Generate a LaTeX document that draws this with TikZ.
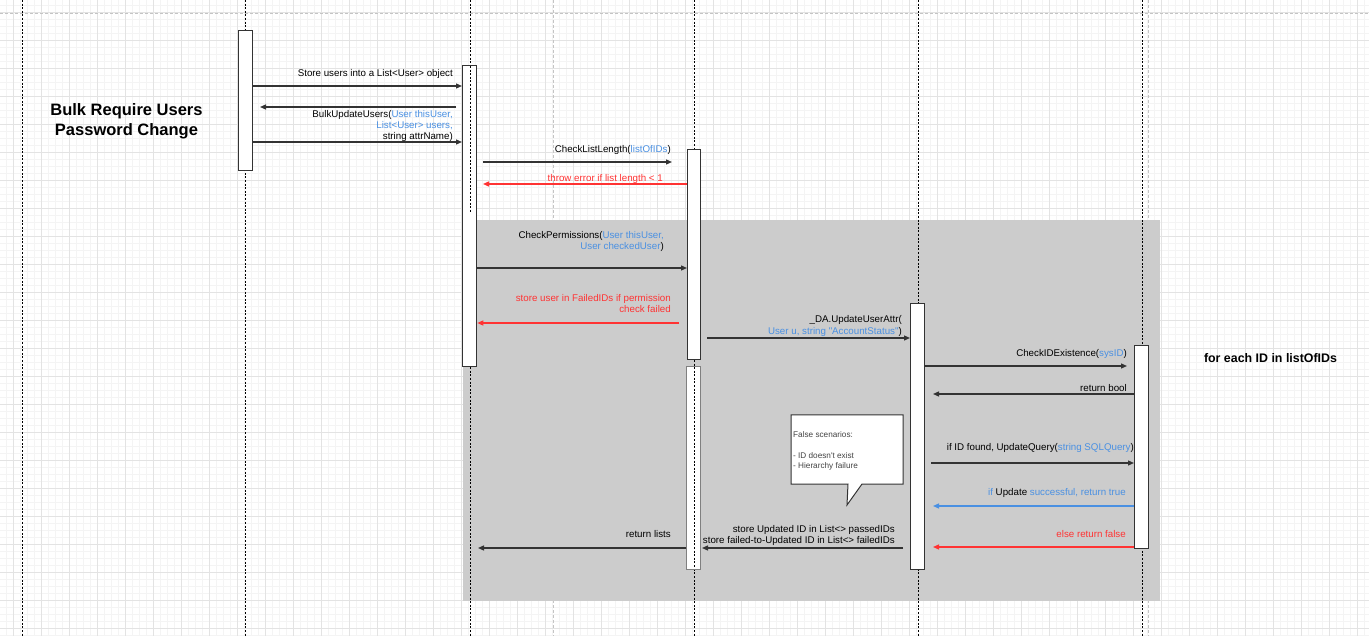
\documentclass[tikz,border=0pt]{standalone}
\usepackage{fontspec}
\setmainfont{Liberation Sans}
\font\qfa="Liberation Sans" at 9.75pt
\font\qfb="Liberation Sans" at 8.2pt
\usetikzlibrary{arrows.meta}
\definecolor{blu}{HTML}{4A90E2}
\definecolor{rd}{HTML}{FF3333}
\definecolor{ln}{HTML}{333333}
\definecolor{gridminor}{HTML}{F4F4F4}
\definecolor{gridmajor}{HTML}{E3E3E3}
\definecolor{pagebrk}{HTML}{C4C4C4}
\definecolor{framegray}{HTML}{CCCCCC}
\definecolor{notetext}{HTML}{444444}
\begin{document}
\begin{tikzpicture}[x=1pt,y=-1pt,
  actbox/.style={draw=ln, line width=1.3pt, fill=white, minimum width=14pt, inner sep=0pt, anchor=north west},
  life/.style={line width=1pt, dash pattern=on 2pt off 1.6pt, black},
  msg/.style={draw=ln, line width=1.3pt, -{Triangle[length=6pt,width=5pt]}},
  lbl/.style={font=\fontsize{9.75}{11}\selectfont, inner sep=0pt, anchor=base east},
  notelbl/.style={font=\fontsize{8.2}{10}\selectfont, inner sep=0pt, anchor=base west, text=notetext},
  pagebreak/.style={draw=pagebrk, line width=0.9pt, dash pattern=on 3pt off 2pt}
]
\useasboundingbox (0,0) rectangle (1369,636);
\fill[white] (0,0) rectangle (1369,636);
% grid
\foreach \i in {0,...,194} { \draw[gridminor, line width=0.8pt] ({6+7*\i},0) -- ++(0,636); }
\foreach \j in {0,...,90} { \draw[gridminor, line width=0.8pt] (0,{5+7*\j}) -- ++(1369,0); }
\foreach \i in {0,...,48} { \draw[gridmajor, line width=0.9pt] ({13+28*\i},0) -- ++(0,636); }
\foreach \j in {0,...,22} { \draw[gridmajor, line width=0.9pt] (0,{12+28*\j}) -- ++(1369,0); }
% page breaks
\draw[pagebreak] (0,13) -- (1369,13);
\draw[pagebreak] (553,0) -- (553,636);
\draw[pagebreak] (1148,0) -- (1148,636);
% loop frame
\fill[framegray] (463,220) rectangle (1160,601);
% lifelines
\foreach \x in {22,245,470,694,918,1142} { \draw[life] (\x,0) -- (\x,636); }
% activation boxes
\node[actbox, minimum height=140pt] (A) at (238,30) {};
\node[actbox, minimum height=301pt] (B) at (462,65) {};
\node[actbox, minimum width=13pt, minimum height=210pt] (C) at (687,149) {};
\node[actbox, draw=gray, minimum height=203pt] (D) at (686,366) {};
\node[actbox, minimum height=266pt] (E) at (910,303) {};
\node[actbox, minimum height=203pt] (F) at (1134,345) {};
\draw[life] (470,66) -- (470,212);
\draw[life] (694,367) -- (694,568);
% callout
\draw[ln, line width=1pt, fill=white] (791,415) -- (903,415) -- (903,484) -- (862,484) -- (847,505) -- (848,484) -- (791,484) -- cycle;
\node[notelbl] (n1) at (793,438) {False scenarios:};
\node[notelbl] (n2) at (793,458) {- ID doesn{\qfb'}t exist};
\node[notelbl] (n3) at (793,468) {- Hierarchy failure};
% free-end coordinates
\coordinate (p2s) at (456,107); \coordinate (p2e) at (260,107);
\coordinate (p4s) at (483,162); \coordinate (p4e) at (672,162);
\coordinate (p5e) at (483,184);
\coordinate (p7s) at (679,323);
\coordinate (p8s) at (707,338);
\coordinate (p9e) at (1127,366);
\coordinate (p10e) at (933,394);
\coordinate (p11s) at (931,463);
\coordinate (p12e) at (933,506);
\coordinate (p13e) at (933,547);
\coordinate (p14s) at (903,548); \coordinate (p14e) at (702,548);
\coordinate (p15e) at (478,548);
% messages
\draw[msg] (A.east |- 0,86) -- (B.west |- 0,86);
\draw[msg] (p2s) -- (p2e);
\draw[msg] (A.east |- 0,142) -- (B.west |- 0,142);
\draw[msg] (p4s) -- (p4e);
\draw[msg, draw=rd] (C.west |- 0,184) -- (p5e);
\draw[msg] (B.east |- 0,268) -- (C.west |- 0,268);
\draw[msg, draw=rd] (p7s) -- (B.east |- 0,323);
\draw[msg] (p8s) -- (E.west |- 0,338);
\draw[msg] (E.east |- 0,366) -- (p9e);
\draw[msg] (F.west |- 0,394) -- (p10e);
\draw[msg] (p11s) -- (F.west |- 0,463);
\draw[msg, draw=blu] (F.west |- 0,506) -- (p12e);
\draw[msg, draw=rd] (F.west |- 0,547) -- (p13e);
\draw[msg] (p14s) -- (p14e);
\draw[msg] (D.west |- 0,548) -- (p15e);
% labels
\node[lbl] (t1) at (453,76.5) {Store users into a List<User> object};
\node[lbl] (t2) at (453,117.5) {BulkUpdateUsers(\textcolor{blu}{User thisUser,}};
\node[lbl] (t3) at (453,128.5) {\textcolor{blu}{List<User> users,}};
\node[lbl] (t4) at (453,139.5) {string attrName)};
\node[lbl] (t5) at (671,152.5) {CheckListLength(\textcolor{blu}{listOfIDs})};
\node[lbl, text=rd] (t6) at (663,181.5) {throw error if list length < 1};
\node[lbl] (t7) at (664,238.5) {CheckPermissions(\textcolor{blu}{User thisUser,}};
\node[lbl] (t8) at (664,249.5) {\textcolor{blu}{User checkedUser})};
\node[lbl, text=rd] (t9) at (671,301.5) {store user in FailedIDs if permission};
\node[lbl, text=rd] (t10) at (671,312.5) {check failed};
\node[lbl] (t11) at (902,322.5) {\_DA.UpdateUserAttr(};
\node[lbl] (t12) at (902,334.5) {\textcolor{blu}{User u, string {\qfa"}AccountStatus{\qfa"}})};
\node[lbl] (t13) at (1127,356.5) {CheckIDExistence(\textcolor{blu}{sysID})};
\node[lbl] (t14) at (1127,391.5) {return bool};
\node[lbl] (t15) at (1134,450.5) {if ID found, UpdateQuery(\textcolor{blu}{string SQLQuery})};
\node[lbl] (t16) at (1126,495.5) {\textcolor{blu}{if} Update \textcolor{blu}{successful, return true}};
\node[lbl, text=rd] (t17) at (1126,537.5) {else return false};
\node[lbl] (t18) at (895,532.5) {store Updated ID in List<> passedIDs};
\node[lbl] (t19) at (895,543.5) {store failed-to-Updated ID in List<> failedIDs};
\node[lbl] (t20) at (671,537.5) {return lists};
% titles
\node[font=\bfseries\fontsize{16.5}{20}\selectfont, align=center, inner sep=0pt] (title) at (126.5,121) {Bulk Require Users\\Password Change};
\node[font=\bfseries\fontsize{12.4}{14}\selectfont, inner sep=0pt] (loop) at (1270.5,358) {for each ID in listOfIDs};
\end{tikzpicture}
\end{document}
